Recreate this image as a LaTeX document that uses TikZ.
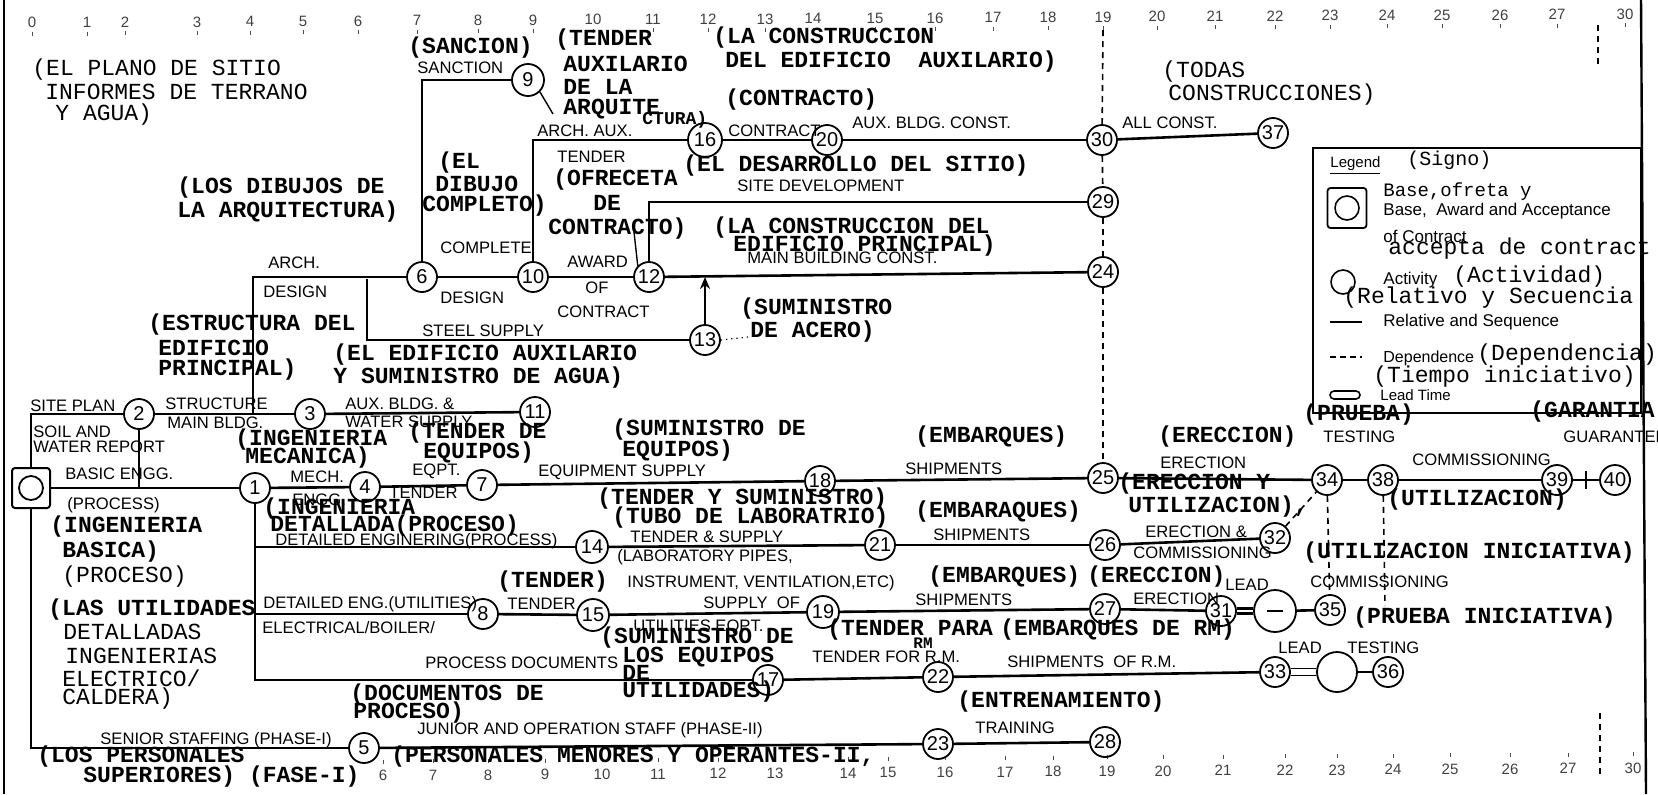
\documentclass[tikz,border=0pt]{standalone}
\usepackage{fontspec}
\setmainfont{Liberation Sans}
\newfontfamily\mono{Liberation Mono}
\newfontfamily\hel{Liberation Sans}
\usetikzlibrary{arrows.meta}
\begin{document}
\begin{tikzpicture}[x=0.5pt,y=-0.5pt,
 ev/.style={circle,draw,line width=0.9pt,minimum size=15pt,inner sep=0pt,font=\hel\fontsize{10}{10}\selectfont},
 ln/.style={line width=1.3pt},
 ldr/.style={line width=0.7pt},
 dep/.style={line width=0.8pt,dash pattern=on 3pt off 2.5pt},
 leadA/.style={double,line width=1.4pt,double distance=1.4pt},
 leadB/.style={double,line width=0.9pt,double distance=2.6pt},
 en/.style={font=\hel\fontsize{8.3}{9}\selectfont,inner sep=0pt,anchor=west},
 es/.style={font=\mono\bfseries\fontsize{11.5}{12}\selectfont,inner sep=0pt,anchor=west},
 esr/.style={font=\mono\fontsize{11.5}{12}\selectfont,inner sep=0pt,anchor=west},
 lgs/.style={font=\hel\fontsize{8.5}{9}\selectfont,inner sep=0pt,anchor=west},
 lgm/.style={font=\mono\fontsize{11.5}{12}\selectfont,inner sep=0pt,anchor=west},
 sc/.style={font=\hel\fontsize{7.5}{8}\selectfont,inner sep=0pt,text=black!75},
]
\useasboundingbox (0,0) rectangle (1658,794);

% borders
\coordinate (bl1) at (4,0); \coordinate (bl2) at (4,794);
\coordinate (br1) at (1641,0); \coordinate (br2) at (1646,794);
\draw[line width=1.2pt] (bl1) -- (bl2);
\draw[line width=1.2pt] (br1) -- (br2);

% scale numbers
\foreach \x/\t in {32/0,87/1,125/2,197/3,250/4,303/5,358/6,417/7,478/8,533/9,593/10,653/11,708/12,765/13,813/14,875/15,935/16,993/17,1048/18,1103/19,1157/20,1215/21,1275/22,1330/23,1387/24,1442/25,1500/26,1557/27,1625/30}{
  \node[sc] (tn\t) at (\x,{23-9*\x/1658}) {\t};
  \draw[line width=0.4pt,black!70] (\x,{32-9*\x/1658}) -- ++(0,4);
}
\foreach \x/\t in {383/6,433/7,488/8,545/9,602/10,658/11,718/12,775/13,848/14,888/15,945/16,1005/17,1053/18,1107/19,1163/20,1223/21,1285/22,1337/23,1393/24,1450/25,1510/26,1568/27,1633/30}{
  \node[sc] (bn\t) at (\x,{778-10*\x/1658}) {\t};
  \draw[line width=0.4pt,black!70] (\x,{762-10*\x/1658}) -- ++(0,4);
}

% events
\node[draw,line width=1pt,rounded corners=1.5pt,minimum width=19pt,minimum height=20pt,inner sep=0pt] (n0) at (31,488) {};
\node[circle,draw,line width=0.9pt,minimum size=12pt,inner sep=0pt] (n0c) at (31,488) {};
\node[ev] (n1) at (255,488) {1};
\node[ev] (n2) at (139,414) {2};
\node[ev] (n3) at (310,414) {3};
\node[ev] (n4) at (365,487) {4};
\node[ev] (n5) at (364,748) {5};
\node[ev] (n6) at (422,277) {6};
\node[ev] (n7) at (482,485) {7};
\node[ev] (n8) at (483,614) {8};
\node[ev,minimum size=16pt] (n9) at (528,80) {9};
\node[ev] (n10) at (533,277) {10};
\node[ev] (n11) at (535,412) {11};
\node[ev] (n12) at (649,277) {12};
\node[ev] (n13) at (705,340) {13};
\node[ev,minimum size=16pt] (n14) at (592,547) {14};
\node[ev,minimum size=16pt] (n15) at (593,615) {15};
\node[ev,minimum size=17pt] (n16) at (705,140) {16};
\node[ev] (n17) at (768,680) {17};
\node[ev] (n18) at (820,481) {18};
\node[ev,minimum size=16pt] (n19) at (823,612) {19};
\node[ev] (n20) at (827,140) {20};
\node[ev] (n21) at (880,545) {21};
\node[ev] (n22) at (938,677) {22};
\node[ev] (n23) at (938,744) {23};
\node[ev] (n24) at (1103,272) {24};
\node[ev] (n25) at (1103,478) {25};
\node[ev] (n26) at (1105,545) {26};
\node[ev] (n27) at (1105,609) {27};
\node[ev] (n28) at (1105,742) {28};
\node[ev] (n29) at (1103,202) {29};
\node[ev] (n30) at (1102,140) {30};
\node[ev] (n31) at (1221,611) {31};
\node[ev,minimum size=21pt] (nA) at (1275,611) {};
\node[ev] (n32) at (1275,538) {32};
\node[ev] (n33) at (1275,672) {33};
\node[ev,minimum size=20pt] (nB) at (1337,672) {};
\node[ev] (n34) at (1327,480) {34};
\node[ev] (n35) at (1330,610) {35};
\node[ev] (n36) at (1388,672) {36};
\node[ev] (n37) at (1273,133) {37};
\node[ev] (n38) at (1383,480) {38};
\node[ev] (n39) at (1557,480) {39};
\node[ev] (n40) at (1615,480) {40};

% activities
\coordinate (a1) at (253,414);
\coordinate (a2) at (367,279);
\coordinate (t19) at (1103,30);
\draw[ln] (n0) -- (n1);
\draw[ln] (n0.north) |- (n2);
\draw[ln] (n0.south) |- (n5);
\draw[ln] (n2.south) -- (n2.south |- n0);
\draw[ln] (n2) -- (n3);
\draw[ln] (n3) -- (n11);
\draw[ln] (a1) |- (n6);
\draw[ln] (a2) |- (n13);
\draw[ln] (n1) -- (n4);
\draw[ln] (n4) -- (n7);
\draw[ln] (n7) -- (n18);
\draw[ln] (n18) -- (n25);
\draw[ln] (n25) -- (n34);
\draw[ln] (n34) -- (n38);
\draw[ln] (n38) -- (n39);
\draw[ln] (n39) -- (n40);
\draw[ln] (1586,471) -- (1586,489);
\draw[ln] (n1.south) |- (n17);
\draw[ln] (n1.south |- n14) -- (n14);
\draw[ln] (n1.south |- n8) -- (n8);
\draw[ln] (n8) -- (n15);
\draw[ln] (n15) -- (n19);
\draw[ln] (n19) -- (n27);
\draw[ln] (n27) -- (n31);
\draw[leadA] (n31) -- (nA);
\draw[line width=0.8pt] ([xshift=-4pt]nA.center) -- ([xshift=4pt]nA.center);
\draw[ln] (nA) -- (n35);
\draw[ln] (n14) -- (n21);
\draw[ln] (n21) -- (n26);
\draw[ln] (n26) -- (n32);
\draw[ln] (n17) -- (n22);
\draw[ln] (n22) -- (n33);
\draw[leadB] (n33) -- (nB);
\draw[ln] (nB) -- (n36);
\draw[ln] (n5) -- (n23);
\draw[ln] (n23) -- (n28);
\draw[ln] (n6) -- (n10);
\draw[ln] (n10) -- (n12);
\draw[ln] (n12) -- (n24);
\draw[ln] (n6.north) |- (n9);
\draw[ln] (n10.north) |- (n16);
\draw[ln] (n16) -- (n20);
\draw[ln] (n20) -- (n30);
\draw[ln] (n30) -- (n37);
\draw[ln] (n12.north) |- (n29);
\draw[ln,-{Stealth[length=6pt,width=5pt]}] (n13) -- (n13 |- n12);
% dependences
\draw[dep] (t19) -- (n30);
\draw[dep] (n30) -- (n29);
\draw[dep] (n29) -- (n24);
\draw[dep] (n24) -- (n25);
\draw[dep] (n32) -- (n34);
\draw[dep] (n34) -- (n35);
\draw[dep] (n38) -- (1385,606);
\draw[dep] (1598,25) -- (1598,67);
\draw[dep] (1600,713) -- (1600,775);
% leaders
\draw[ldr] (n9.south east) -- (553,114);
\draw[ldr] (634,232) -- (n12.north west);
\draw[line width=0.6pt,dotted] (n13.east) -- (748,337);

% English labels
\node[en] (e1) at (417,68) {SANCTION};
\node[en] (e2) at (537,131) {ARCH. AUX.};
\node[en] (e3) at (557,157) {TENDER};
\node[en] (e4) at (728,131) {CONTRACT};
\node[en] (e5) at (852,123) {AUX. BLDG. CONST.};
\node[en] (e6) at (1122,123) {ALL CONST.};
\node[en] (e7) at (737,186) {SITE DEVELOPMENT};
\node[en] (e8) at (440,248) {COMPLETE};
\node[en] (e9) at (567,262) {AWARD};
\node[en] (e10) at (747,258) {MAIN BUILDING CONST.};
\node[en] (e11) at (440,298) {DESIGN};
\node[en] (e12) at (585,288) {OF};
\node[en] (e13) at (557,312) {CONTRACT};
\node[en] (e14) at (422,331) {STEEL SUPPLY};
\node[en] (e15) at (268,263) {ARCH.};
\node[en] (e16) at (263,292) {DESIGN};
\node[en] (e17) at (30,406) {SITE PLAN};
\node[en] (e18) at (33,432) {SOIL AND};
\node[en] (e19) at (33,447) {WATER REPORT};
\node[en] (e20) at (165,404) {STRUCTURE};
\node[en] (e21) at (167,423) {MAIN BLDG.};
\node[en] (e22) at (345,404) {AUX. BLDG. \&};
\node[en] (e23) at (345,422) {WATER SUPPLY};
\node[en] (e24) at (65,474) {BASIC ENGG.};
\node[en] (e25) at (67,505) {(PROCESS)};
\node[en] (e26) at (290,477) {MECH.};
\node[en] (e27) at (292,500) {ENGG.};
\node[en] (e28) at (412,471) {EQPT.};
\node[en] (e29) at (389,493) {TENDER};
\node[en] (e30) at (538,472) {EQUIPMENT SUPPLY};
\node[en] (e31) at (905,469) {SHIPMENTS};
\node[en] (e32) at (1160,463) {ERECTION};
\node[en] (e33) at (1323,437) {TESTING};
\node[en] (e34) at (1412,460) {COMMISSIONING};
\node[en] (e35) at (1563,437) {GUARANTEE};
\node[en] (e36) at (275,541) {DETAILED ENGINERING(PROCESS)};
\node[en] (e37) at (630,537) {TENDER \& SUPPLY};
\node[en] (e38) at (617,557) {(LABORATORY PIPES,};
\node[en] (e39) at (627,583) {INSTRUMENT, VENTILATION,ETC)};
\node[en] (e40) at (933,535) {SHIPMENTS};
\node[en] (e41) at (1145,532) {ERECTION \&};
\node[en] (e42) at (1133,553) {COMMISSIONING};
\node[en] (e43) at (263,604) {DETAILED ENG.(UTILITIES)};
\node[en] (e44) at (262,628) {ELECTRICAL/BOILER/};
\node[en] (e45) at (507,604) {TENDER};
\node[en] (e46) at (703,603) {SUPPLY\ \ OF};
\node[en] (e47) at (633,627) {UTILITIES EQPT.};
\node[en] (e48) at (915,600) {SHIPMENTS};
\node[en] (e49) at (1133,599) {ERECTION};
\node[en] (e50) at (1225,585) {LEAD};
\node[en] (e51) at (1310,582) {COMMISSIONING};
\node[en] (e52) at (425,663) {PROCESS DOCUMENTS};
\node[en] (e53) at (812,657) {TENDER FOR R.M.};
\node[en] (e54) at (1007,662) {SHIPMENTS\ \ OF R.M.};
\node[en] (e55) at (1278,648) {LEAD};
\node[en] (e56) at (1347,648) {TESTING};
\node[en] (e57) at (100,740) {SENIOR STAFFING (PHASE-I)};
\node[en] (e58) at (417,730) {JUNIOR AND OPERATION STAFF (PHASE-II)};
\node[en] (e59) at (975,728) {TRAINING};

% Spanish labels
\node[esr] (s1) at (32,70) {(EL PLANO DE SITIO};
\node[esr] (s2) at (45,92) {INFORMES DE TERRANO};
\node[esr] (s3) at (55,115) {Y AGUA)};
\node[esr] (s4) at (1162,72) {(TODAS};
\node[esr] (s5) at (1168,95) {CONSTRUCCIONES)};
\node[es] (s6) at (408,48) {(SANCION)};
\node[es] (s7) at (555,40) {(TENDER};
\node[es] (s8) at (563,64) {AUXILARIO};
\node[es] (s9) at (563,87) {DE LA};
\node[es] (s10) at (563,109) {ARQUITE};
\node[es,font=\mono\bfseries\fontsize{9}{10}\selectfont] (s11) at (642,120) {CTURA)};
\node[es] (s12) at (713,38) {(LA CONSTRUCCION};
\node[es] (s13) at (725,62) {DEL EDIFICIO\ \ AUXILARIO)};
\node[es] (s14) at (725,100) {(CONTRACTO)};
\node[es] (s15) at (438,163) {(EL};
\node[es] (s16) at (435,184) {DIBUJO};
\node[es] (s17) at (422,206) {COMPLETO)};
\node[es] (s18) at (553,180) {(OFRECETA};
\node[es] (s19) at (593,203) {DE};
\node[es] (s20) at (548,229) {CONTRACTO)};
\node[es] (s21) at (683,166) {(EL DESARROLLO DEL SITIO)};
\node[es] (s22) at (713,228) {(LA CONSTRUCCION DEL};
\node[es] (s23) at (733,246) {EDIFICIO PRINCIPAL)};
\node[es] (s24) at (177,188) {(LOS DIBUJOS DE};
\node[es] (s25) at (177,212) {LA ARQUITECTURA)};
\node[es] (s26) at (148,325) {(ESTRUCTURA DEL};
\node[es] (s27) at (158,348) {EDIFICIO};
\node[es] (s28) at (158,370) {PRINCIPAL)};
\node[es] (s29) at (333,355) {(EL EDIFICIO AUXILARIO};
\node[es] (s30) at (333,378) {Y SUMINISTRO DE AGUA)};
\node[es] (s31) at (740,309) {(SUMINISTRO};
\node[es] (s32) at (750,332) {DE ACERO)};
\node[es] (s33) at (235,440) {(INGENIERIA};
\node[es] (s34) at (245,458) {MECANICA)};
\node[es] (s35) at (408,433) {(TENDER DE};
\node[es] (s36) at (423,453) {EQUIPOS)};
\node[es] (s37) at (612,430) {(SUMINISTRO DE};
\node[es] (s38) at (622,451) {EQUIPOS)};
\node[es] (s39) at (263,509) {(INGENIERIA};
\node[es] (s40) at (270,526) {DETALLADA(PROCESO)};
\node[es] (s41) at (50,527) {(INGENIERIA};
\node[es] (s42) at (62,552) {BASICA)};
\node[esr] (s43) at (62,577) {(PROCESO)};
\node[es] (s44) at (597,499) {(TENDER Y SUMINISTRO)};
\node[es] (s45) at (612,518) {(TUBO DE LABORATRIO)};
\node[es] (s46) at (915,437) {(EMBARQUES)};
\node[es] (s47) at (915,512) {(EMBARAQUES)};
\node[es] (s48) at (1158,437) {(ERECCION)};
\node[es] (s49) at (1118,484) {(ERECCION Y};
\node[es] (s50) at (1128,507) {UTILIZACION),};
\node[es] (s51) at (1303,415) {(PRUEBA)};
\node[es] (s52) at (1530,412) {(GARANTIA};
\node[es] (s53) at (1387,500) {(UTILIZACION)};
\node[es] (s54) at (1303,553) {(UTILIZACION INICIATIVA)};
\node[es] (s55) at (1353,618) {(PRUEBA INICIATIVA)};
\node[es] (s56) at (497,582) {(TENDER)};
\node[es] (s57) at (928,577) {(EMBARQUES)};
\node[es] (s58) at (1087,577) {(ERECCION)};
\node[es] (s59) at (827,630) {(TENDER PARA};
\node[es,font=\mono\bfseries\fontsize{8}{9}\selectfont] (s60) at (913,643) {RM};
\node[es] (s61) at (1000,630) {(EMBARQUES DE RM)};
\node[es] (s62) at (600,638) {(SUMINISTRO DE};
\node[es] (s63) at (622,657) {LOS EQUIPOS};
\node[es] (s64) at (622,673) {DE};
\node[es] (s65) at (622,692) {UTILIDADES)};
\node[es] (s66) at (350,695) {(DOCUMENTOS DE};
\node[es] (s67) at (353,713) {PROCESO)};
\node[es] (s68) at (957,702) {(ENTRENAMIENTO)};
\node[es] (s69) at (48,610) {(LAS UTILIDADES};
\node[esr] (s70) at (63,632) {DETALLADAS};
\node[esr] (s71) at (65,656) {INGENIERIAS};
\node[esr] (s72) at (62,678) {ELECTRICO/};
\node[esr] (s73) at (62,699) {CALDERA)};
\node[es] (s74) at (37,757) {(LOS PERSONALES};
\node[es] (s75) at (83,777) {SUPERIORES) (FASE-I)};
\node[es] (s76) at (391,757) {(PERSONALES MENORES Y OPERANTES-II,};

% legend
\coordinate (lgA) at (1313,148); \coordinate (lgB) at (1641,413);
\draw[line width=0.9pt] (lgA) rectangle (lgB);
\node[draw,line width=0.9pt,rounded corners=1.5pt,minimum width=19.5pt,minimum height=20pt,inner sep=0pt] (lgsq) at (1347,208) {};
\node[circle,draw,line width=0.8pt,minimum size=12pt,inner sep=0pt] (lgsqc) at (1347,208) {};
\node[circle,draw,line width=0.8pt,minimum size=12pt,inner sep=0pt] (lgac) at (1343,282) {};
\coordinate (lr1) at (1330,322); \coordinate (lr2) at (1362,322);
\draw[line width=0.9pt] (lr1) -- (lr2);
\coordinate (ld1) at (1330,357); \coordinate (ld2) at (1362,357);
\draw[line width=0.8pt,dash pattern=on 3pt off 2pt] (ld1) -- (ld2);
\node[draw,line width=0.8pt,rounded corners=2pt,minimum width=15pt,minimum height=4pt,inner sep=0pt] (lglt) at (1345,395) {};
\node[lgs,font=\hel\fontsize{7.5}{8}\selectfont] (l1) at (1330,166) {\underline{Legend}};
\node[lgm,font=\mono\fontsize{10}{11}\selectfont] (l2) at (1407,160) {(Signo)};
\node[lgm,font=\mono\fontsize{9.5}{10}\selectfont] (l3) at (1383,192) {Base,ofreta y};
\node[lgs] (l4) at (1383,211) {Base,\ \ Award and Acceptance};
\node[lgs] (l5) at (1383,236) {of Contract};
\node[lgm] (l6) at (1388,249) {accepta de contract};
\node[lgs] (l7) at (1383,280) {Activity};
\node[lgm] (l8) at (1453,277) {(Actividad)};
\node[lgm] (l9) at (1343,298) {(Relativo y Secuencia};
\node[lgs] (l10) at (1383,322) {Relative and Sequence};
\node[lgs,font=\hel\fontsize{8}{9}\selectfont] (l11) at (1383,358) {Dependence};
\node[lgm] (l12) at (1477,355) {(Dependencia)};
\node[lgm] (l13) at (1373,377) {(Tiempo iniciativo)};
\node[lgs,font=\hel\fontsize{7.5}{8}\selectfont] (l14) at (1380,395) {Lead Time};
\end{tikzpicture}
\end{document}
